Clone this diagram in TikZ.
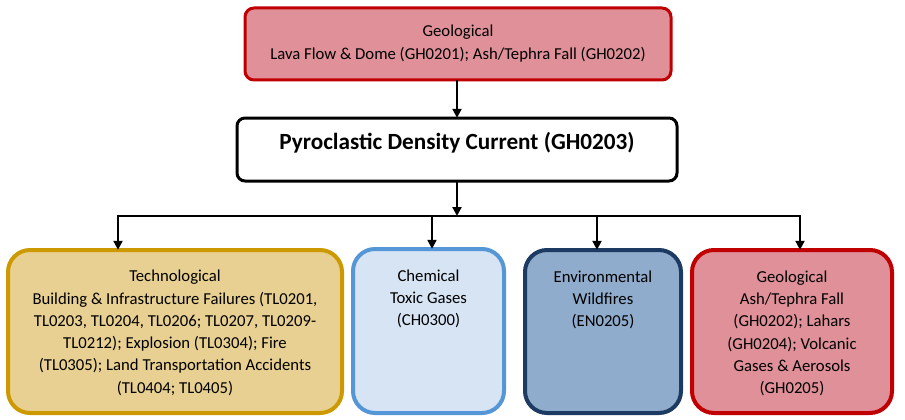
\documentclass[tikz,border=0pt]{standalone}
\usepackage{fontspec}
\setmainfont{Carlito}
\usetikzlibrary{arrows.meta}
\definecolor{redfill}{RGB}{223,144,152}
\definecolor{redline}{RGB}{192,0,0}
\definecolor{goldfill}{RGB}{232,208,146}
\definecolor{goldline}{RGB}{204,153,0}
\definecolor{bluefill}{RGB}{214,228,244}
\definecolor{blueline}{RGB}{84,150,214}
\definecolor{navyfill}{RGB}{143,172,204}
\definecolor{navyline}{RGB}{28,58,98}
\tikzset{
  box/.style={draw, line width=#1, inner sep=0pt},
  small/.style={rounded corners=9pt},
  big/.style={rounded corners=22pt},
  txt/.style={anchor=north, align=center, font=\fontsize{16.7}{22.3}\selectfont, inner sep=0pt},
  arr/.style={line width=2.2pt, -{Triangle[length=9pt,width=9pt]}},
  ln/.style={line width=2pt}
}
\begin{document}
\begin{tikzpicture}[x=1pt,y=-1pt]
\useasboundingbox (0,0) rectangle (905,420);
% top box
\draw[box=3pt, small, draw=redline, fill=redfill] (245,8) rectangle (671,80);
\node[inner sep=0pt, minimum width=426pt, minimum height=72pt] (top) at (458,44) {};
\node[txt] (toptxt) at (458,25) {Geological\\Lava Flow \& Dome (GH0201); Ash/Tephra Fall (GH0202)};
% middle
\draw[box=3pt, rounded corners=8pt, draw=black, fill=white] (237,118) rectangle (677,181);
\node[inner sep=0pt, minimum width=440pt, minimum height=63pt] (mid) at (457,149.5) {};
\node[font=\fontsize{23.2}{26}\selectfont\bfseries, inner sep=0pt] (midtxt) at (457,143) {Pyroclastic Density Current (GH0203)};
% bottom boxes
\draw[box=4pt, big, draw=goldline, fill=goldfill] (8,250) rectangle (342,413);
\node[inner sep=0pt, minimum width=334pt, minimum height=163pt] (tech) at (175,331.5) {};
\node[txt] (techtxt) at (175,270) {Technological\\Building \& Infrastructure Failures (TL0201,\\TL0203, TL0204, TL0206; TL0207, TL0209-\\TL0212); Explosion (TL0304); Fire\\(TL0305); Land Transportation Accidents\\(TL0404; TL0405)};
\draw[box=4pt, big, draw=blueline, fill=bluefill] (353,249) rectangle (504,413);
\node[inner sep=0pt, minimum width=151pt, minimum height=164pt] (chem) at (428.5,331) {};
\node[txt] (chemtxt) at (428.5,269.5) {Chemical\\Toxic Gases\\(CH0300)};
\draw[box=4pt, big, draw=navyline, fill=navyfill] (525,250) rectangle (681,413);
\node[inner sep=0pt, minimum width=156pt, minimum height=163pt] (env) at (603,331.5) {};
\node[txt] (envtxt) at (603,270.5) {Environmental\\Wildfires\\(EN0205)};
\draw[box=4pt, big, draw=redline, fill=redfill] (692,250) rectangle (892,413);
\node[inner sep=0pt, minimum width=200pt, minimum height=163pt] (geo) at (792,331.5) {};
\node[txt] (geotxt) at (792,270.5) {Geological\\Ash/Tephra Fall\\(GH0202); Lahars\\(GH0204); Volcanic\\Gases \& Aerosols\\(GH0205)};
% connectors
\draw[arr] (mid.north |- top.south) -- (mid.north);
\coordinate (bar) at (457,216);
\coordinate (b1) at (118,216);
\coordinate (b2) at (432,216);
\coordinate (b3) at (597,216);
\coordinate (b4) at (800,216);
\draw[arr] (mid.south) -- (bar);
\draw[ln] ([xshift=-1pt]b1) -- ([xshift=1pt]b4);
\draw[arr] (b1) -- (b1 |- tech.north);
\draw[arr] (b2) -- (b2 |- chem.north);
\draw[arr] (b3) -- (b3 |- env.north);
\draw[arr] (b4) -- (b4 |- geo.north);
\end{tikzpicture}
\end{document}
